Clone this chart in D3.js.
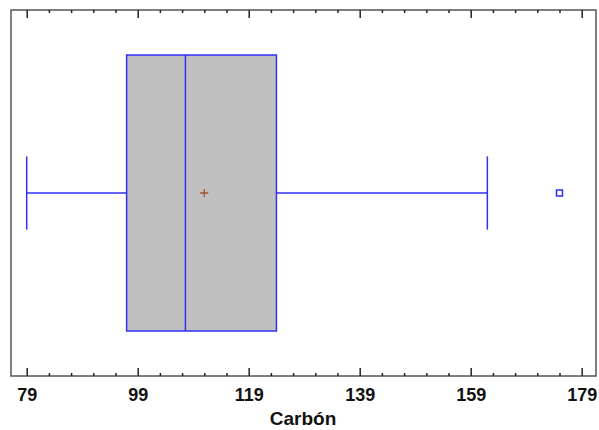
<!DOCTYPE html>
<html>
<head>
<meta charset="utf-8">
<script src="https://cdn.jsdelivr.net/npm/d3@7"></script>
<style>
  body { margin: 0; background: #fff; }
  text { font-family: "Liberation Sans", Arial, sans-serif; font-weight: bold; fill: #111; }
</style>
</head>
<body>
<script>
// box plot summary for Carbón
var whiskerLow = 79;
var q1 = 97;
var median = 107.6;
var mean = 111;
var q3 = 124;
var whiskerHigh = 162;
var outliers = [175];
var majorTicks = [79, 99, 119, 139, 159, 179];

var width = 599, height = 430;
var frame = { left: 11, right: 596, top: 10, bottom: 376 };

var svg = d3.select('body').append('svg').attr('width', width).attr('height', height);

var x = d3.scaleLinear().domain([79, 179]).range([26.7, 581.7]);
var y = d3.scaleLinear().domain([0, 1]).range([frame.bottom, frame.top]);

var minorTicks = d3.range(79, 180, 4).filter(function (d) { return majorTicks.indexOf(d) < 0; });

// frame
svg.append('rect')
   .attr('x', frame.left).attr('y', frame.top)
   .attr('width', frame.right - frame.left).attr('height', frame.bottom - frame.top)
   .attr('fill', 'none').attr('stroke', '#555').attr('stroke-width', 1.5);

// ticks bottom + top, pointing inward
var bottomAxis = d3.axisBottom(x).tickValues(majorTicks).tickSize(-8).tickPadding(12).tickFormat(d3.format('d'));
var gB = svg.append('g').attr('transform', 'translate(0,' + frame.bottom + ')').call(bottomAxis);
gB.select('.domain').remove();
gB.selectAll('line').attr('stroke', '#222').attr('stroke-width', 1.5);
gB.selectAll('text').attr('font-size', 18).attr('font-family', '"Liberation Sans", Arial, sans-serif').attr('font-weight', 'bold').attr('fill', '#111');

var gBm = svg.append('g').attr('transform', 'translate(0,' + frame.bottom + ')')
   .call(d3.axisBottom(x).tickValues(minorTicks).tickSize(-3).tickFormat(''));
gBm.select('.domain').remove();
gBm.selectAll('line').attr('stroke', '#222').attr('stroke-width', 1.5);

var gT = svg.append('g').attr('transform', 'translate(0,' + frame.top + ')')
   .call(d3.axisTop(x).tickValues(majorTicks).tickSize(-8).tickFormat(''));
gT.select('.domain').remove();
gT.selectAll('line').attr('stroke', '#222').attr('stroke-width', 1.5);

var gTm = svg.append('g').attr('transform', 'translate(0,' + frame.top + ')')
   .call(d3.axisTop(x).tickValues(minorTicks).tickSize(-3).tickFormat(''));
gTm.select('.domain').remove();
gTm.selectAll('line').attr('stroke', '#222').attr('stroke-width', 1.5);

// axis title
svg.append('text')
   .attr('x', 303).attr('y', 425)
   .attr('text-anchor', 'middle').attr('font-size', 19)
   .text('Carbón');

var blue = '#2f2ff5';
var mid = y(0.5);
var boxTop = y(0.877), boxBot = y(0.123);
var capTop = y(0.6), capBot = y(0.4);

// whiskers
svg.append('line').attr('x1', x(whiskerLow)).attr('x2', x(q1)).attr('y1', mid).attr('y2', mid)
   .attr('stroke', blue).attr('stroke-width', 1.5);
svg.append('line').attr('x1', x(q3)).attr('x2', x(whiskerHigh)).attr('y1', mid).attr('y2', mid)
   .attr('stroke', blue).attr('stroke-width', 1.5);
[whiskerLow, whiskerHigh].forEach(function (v) {
  svg.append('line').attr('x1', x(v)).attr('x2', x(v)).attr('y1', capTop).attr('y2', capBot)
     .attr('stroke', blue).attr('stroke-width', 1.5);
});

// box
svg.append('rect')
   .attr('x', x(q1)).attr('y', boxTop)
   .attr('width', x(q3) - x(q1)).attr('height', boxBot - boxTop)
   .attr('fill', '#c0c0c0').attr('stroke', blue).attr('stroke-width', 1.5);
svg.append('line').attr('x1', x(median)).attr('x2', x(median)).attr('y1', boxTop).attr('y2', boxBot)
   .attr('stroke', blue).attr('stroke-width', 1.5);

// mean marker
var mx = x(mean);
svg.append('path')
   .attr('d', 'M' + (mx - 4) + ',' + mid + 'H' + (mx + 4) + 'M' + mx + ',' + (mid - 4) + 'V' + (mid + 4))
   .attr('stroke', '#a0522d').attr('stroke-width', 1.3);

// outliers
svg.selectAll('rect.out').data(outliers).enter().append('rect')
   .attr('class', 'out')
   .attr('x', function (d) { return x(d) - 3; }).attr('y', mid - 3)
   .attr('width', 6).attr('height', 6)
   .attr('fill', '#fff').attr('stroke', blue).attr('stroke-width', 1.5);
</script>
</body>
</html>
